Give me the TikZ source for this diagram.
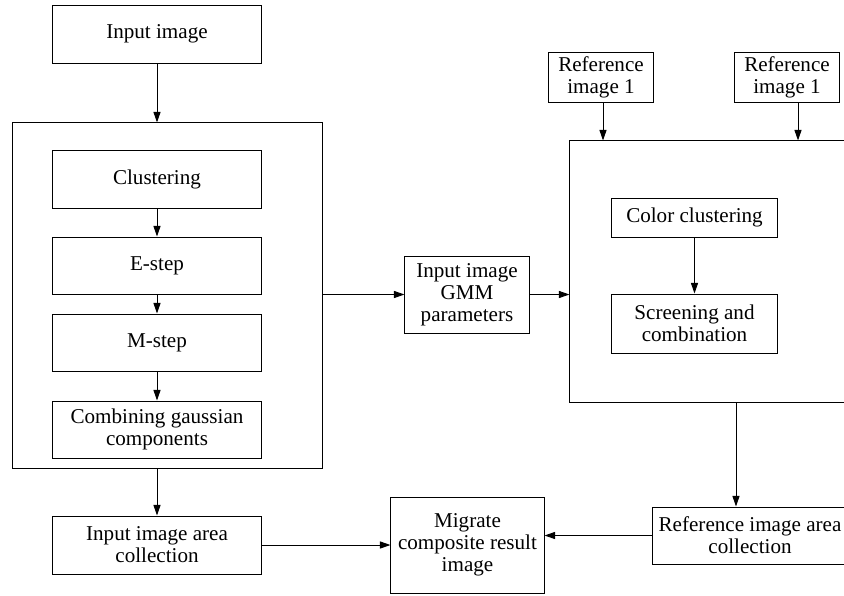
\documentclass[tikz,border=0pt]{standalone}
\usepackage{fontspec}
\setmainfont{Liberation Serif}
\usepackage{tikz}
\usetikzlibrary{arrows.meta}

\begin{document}
\begin{tikzpicture}[x=0.025cm, y=-0.025cm, line width=0.7pt,
  box/.style={draw, align=center, inner sep=1pt, font=\fontsize{15}{15.5}\selectfont},
  arr/.style={-{Triangle[length=7.5pt, width=5pt]}}]

\useasboundingbox (0,0) rectangle (844,595);

% left column
\node[box, minimum width=5.2cm, minimum height=1.45cm] (inimg) at (157, 34) {Input image};
\node[draw, minimum width=7.725cm, minimum height=8.625cm] (gmm) at (167.5, 295.5) {};
\node[box, minimum width=5.2cm, minimum height=1.45cm] (clust) at (157, 179) {Clustering};
\node[box, minimum width=5.2cm, minimum height=1.425cm] (estep) at (157, 265.5) {E-step};
\node[box, minimum width=5.2cm, minimum height=1.425cm] (mstep) at (157, 342.5) {M-step};
\node[box, minimum width=5.2cm, minimum height=1.425cm] (comb) at (157, 429.5) {Combining gaussian\\components};
\node[box, minimum width=5.2cm, minimum height=1.45cm] (inarea) at (157, 545) {Input image area\\collection};

% middle
\node[box, minimum width=3.1cm, minimum height=1.925cm] (params) at (467, 294.5) {Input image\\GMM\\parameters};
\node[box, minimum width=3.825cm, minimum height=2.4cm] (migrate) at (467.5, 545) {Migrate\\composite result\\image};

% right column
\node[box, minimum width=2.6cm, minimum height=1.25cm] (refa) at (601, 77) {Reference\\image 1};
\node[box, minimum width=2.6cm, minimum height=1.25cm] (refb) at (787, 77) {Reference\\image 1};
\node[draw, minimum width=7.05cm, minimum height=6.525cm] (cbox) at (711, 271.5) {};
\node[box, minimum width=4.125cm, minimum height=0.975cm] (color) at (694.5, 217.5) {Color clustering};
\node[box, minimum width=4.125cm, minimum height=1.475cm] (screen) at (694.5, 323.5) {Screening and\\combination};
\node[box, minimum width=4.85cm, minimum height=1.425cm] (refarea) at (750, 535.5) {Reference image area\\collection};

\draw[arr] (inimg) -- (inimg |- gmm.north);
\draw[arr] (clust) -- (estep);
\draw[arr] (estep) -- (mstep);
\draw[arr] (mstep) -- (comb);
\draw[arr] (gmm.south -| inarea) -- (inarea);

\draw[arr] (gmm.east |- params) -- (params);
\draw[arr] (params) -- (params -| cbox.west);

\draw[arr] ([xshift=0.05cm]refa.south) -- ([xshift=0.05cm]refa.south |- cbox.north);
\draw[arr] ([xshift=0.275cm]refb.south) -- ([xshift=0.275cm]refb.south |- cbox.north);
\draw[arr] (color) -- (screen);
\draw[arr] ([xshift=-0.35cm]refarea.north |- cbox.south) -- ([xshift=-0.35cm]refarea.north);

\draw[arr] (inarea) -- (migrate);
\draw[arr] (refarea) -- (refarea -| migrate.east);

\end{tikzpicture}
\end{document}
